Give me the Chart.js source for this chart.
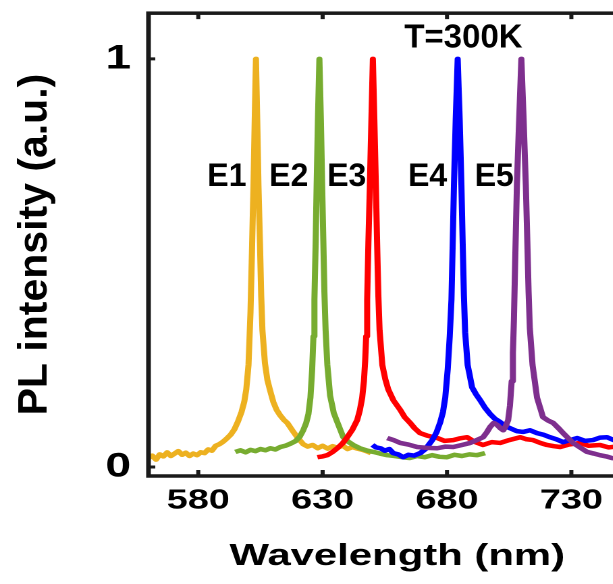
<!DOCTYPE html>
<html>
<head>
<meta charset="utf-8">
<script src="https://cdn.jsdelivr.net/npm/chart.js@4.4.1/dist/chart.umd.min.js"></script>
<style>
  html, body { margin: 0; padding: 0; background: #fff; overflow: hidden; width: 613px; height: 584px; }
  /* the source figure is stretched sideways, so the whole canvas is too */
  #wrap { transform: scaleX(1.35); transform-origin: 0 0; width: 490px; height: 584px; }
</style>
</head>
<body>
<div id="wrap"><canvas id="plChart" width="490" height="584"></canvas></div>
<script>
const SX = 1.35;

// tick values
const xTicks = [580, 630, 680, 730];
const yTicks = [0, 1];

// E1 .. E5 spectra, wavelength (nm) and normalised PL intensity
const wl1 = [560.0, 561.5, 563.0, 564.5, 566.0, 567.5, 569.0, 570.5, 572.0, 573.5, 575.0, 576.5, 578.0, 579.5, 581.0, 582.5, 584.0, 585.5, 587.0, 588.5, 590.0, 591.5, 593.0, 594.5, 596.0, 597.4, 598.5, 599.3, 600.2, 601.0, 601.6, 602.2, 602.7, 603.2, 603.7, 604.2, 604.8, 605.3, 605.8, 606.8, 607.8, 609.0, 610.2, 611.5, 613.0, 614.5, 615.8, 617.8, 619.8, 622.2, 624.0, 626.0, 628.0, 630.0, 632.0, 634.0, 636.0, 638.0, 640.0, 642.0, 644.0, 646.0, 648.0, 649.5];
const pl1 = [0.022, 0.028, 0.018, 0.031, 0.026, 0.036, 0.027, 0.033, 0.039, 0.030, 0.035, 0.027, 0.033, 0.029, 0.036, 0.034, 0.043, 0.040, 0.052, 0.056, 0.062, 0.070, 0.079, 0.092, 0.112, 0.135, 0.160, 0.190, 0.250, 0.380, 0.530, 0.690, 0.850, 1.000, 0.850, 0.690, 0.550, 0.420, 0.335, 0.255, 0.213, 0.185, 0.159, 0.140, 0.126, 0.115, 0.108, 0.090, 0.073, 0.056, 0.050, 0.054, 0.046, 0.052, 0.045, 0.051, 0.047, 0.053, 0.044, 0.049, 0.045, 0.042, 0.038, 0.034];

const wl2 = [594.9, 597.0, 599.0, 601.0, 603.0, 605.0, 607.0, 609.0, 611.0, 613.0, 615.0, 617.0, 619.0, 620.8, 622.2, 623.4, 624.3, 625.1, 625.8, 626.3, 626.7, 627.2, 627.6, 628.1, 628.7, 629.3, 629.8, 630.3, 630.7, 631.2, 631.9, 633.0, 634.5, 635.9, 638.3, 640.3, 642.3, 645.0, 648.0, 650.4, 653.0, 656.0, 659.0, 662.0, 665.0, 668.0, 671.0, 674.0, 677.0, 680.0, 683.0, 686.0, 689.0, 692.0, 695.3];
const pl2 = [0.037, 0.041, 0.036, 0.042, 0.039, 0.044, 0.041, 0.046, 0.043, 0.049, 0.052, 0.057, 0.063, 0.074, 0.090, 0.108, 0.130, 0.170, 0.240, 0.320, 0.410, 0.550, 0.690, 0.850, 1.000, 0.850, 0.690, 0.550, 0.430, 0.335, 0.250, 0.175, 0.132, 0.110, 0.073, 0.062, 0.054, 0.046, 0.040, 0.037, 0.033, 0.029, 0.027, 0.024, 0.022, 0.027, 0.024, 0.029, 0.025, 0.024, 0.030, 0.027, 0.031, 0.029, 0.034];

const wl3 = [627.9, 630.0, 631.9, 634.0, 635.9, 638.0, 639.9, 642.0, 643.9, 645.0, 645.9, 646.6, 647.1, 647.5, 647.9, 648.4, 649.0, 649.6, 650.2, 650.8, 651.4, 651.9, 652.4, 652.9, 654.0, 655.2, 656.4, 658.5, 661.2, 663.0, 665.2, 667.0, 669.2, 672.0, 676.1, 679.0, 682.5, 685.0, 688.1, 691.0, 694.5, 698.0, 701.4, 705.0, 709.4, 712.0, 714.6, 717.5, 720.2, 723.0, 725.5, 729.0, 733.5, 737.0, 741.5, 745.0, 749.0, 753.0, 757.0, 760.0];
const pl3 = [0.024, 0.026, 0.029, 0.037, 0.046, 0.058, 0.073, 0.092, 0.115, 0.140, 0.170, 0.210, 0.260, 0.320, 0.410, 0.550, 0.690, 0.850, 1.000, 0.850, 0.690, 0.550, 0.420, 0.335, 0.250, 0.215, 0.190, 0.163, 0.140, 0.122, 0.108, 0.095, 0.083, 0.077, 0.071, 0.064, 0.066, 0.070, 0.073, 0.062, 0.054, 0.061, 0.059, 0.066, 0.073, 0.068, 0.066, 0.059, 0.054, 0.051, 0.049, 0.055, 0.059, 0.052, 0.054, 0.048, 0.051, 0.046, 0.050, 0.048];

const wl4 = [650.0, 651.5, 653.2, 655.0, 656.8, 658.4, 660.4, 662.4, 664.5, 666.8, 669.2, 671.5, 674.1, 675.8, 677.3, 678.4, 679.3, 680.3, 681.1, 681.8, 682.3, 682.8, 683.5, 684.3, 685.1, 685.8, 686.3, 686.8, 687.3, 688.3, 690.1, 691.7, 693.3, 695.3, 697.3, 699.3, 701.4, 703.4, 705.4, 708.0, 710.6, 713.4, 716.2, 718.8, 721.4, 724.0, 726.7, 729.5, 732.3, 735.5, 738.7, 741.5, 744.3, 747.0, 750.0, 753.0, 756.0, 760.0];
const pl4 = [0.054, 0.048, 0.046, 0.040, 0.044, 0.034, 0.031, 0.024, 0.030, 0.028, 0.034, 0.045, 0.066, 0.085, 0.110, 0.135, 0.170, 0.240, 0.320, 0.410, 0.550, 0.690, 0.850, 1.000, 0.850, 0.690, 0.550, 0.420, 0.330, 0.250, 0.195, 0.178, 0.164, 0.145, 0.130, 0.118, 0.110, 0.100, 0.095, 0.088, 0.086, 0.090, 0.083, 0.079, 0.073, 0.068, 0.061, 0.066, 0.071, 0.064, 0.066, 0.072, 0.073, 0.066, 0.070, 0.064, 0.069, 0.068];

const wl5 = [656.0, 658.5, 661.2, 664.5, 668.0, 672.0, 676.1, 679.5, 682.5, 686.0, 689.3, 692.0, 694.5, 696.0, 697.3, 698.8, 700.2, 701.5, 702.6, 703.6, 704.6, 705.3, 706.0, 706.5, 706.9, 707.4, 708.1, 709.0, 709.9, 710.8, 711.7, 712.3, 712.8, 713.3, 714.4, 716.2, 718.6, 720.6, 722.7, 724.7, 726.7, 728.7, 730.7, 733.5, 736.3, 739.0, 741.5, 744.0, 746.3, 749.0, 752.0, 756.0, 760.0];
const pl5 = [0.071, 0.066, 0.059, 0.055, 0.049, 0.047, 0.046, 0.050, 0.049, 0.054, 0.059, 0.066, 0.073, 0.085, 0.098, 0.108, 0.103, 0.095, 0.090, 0.100, 0.115, 0.150, 0.210, 0.280, 0.360, 0.500, 0.690, 0.850, 1.000, 0.850, 0.690, 0.550, 0.430, 0.340, 0.250, 0.170, 0.122, 0.114, 0.108, 0.096, 0.083, 0.071, 0.059, 0.048, 0.037, 0.033, 0.029, 0.026, 0.022, 0.020, 0.018, 0.016, 0.015];

const names = ['E1', 'E2', 'E3', 'E4', 'E5'];
const colors = ['#EDB120', '#77AC30', '#FF0000', '#0000FF', '#7E2F8E'];
const series = [[wl1, pl1], [wl2, pl2], [wl3, pl3], [wl4, pl4], [wl5, pl5]];

// text written inside the plot, placed in data units
const noteTexts = ['T=300K', 'E1', 'E2', 'E3', 'E4', 'E5'];
const noteWl = [686.6, 591.5, 616.4, 639.7, 672.2, 699.0];
const notePl = [1.050, 0.71, 0.71, 0.71, 0.71, 0.71];
const yTitle = 'PL intensity (a.u.)';

const FONT = "'Liberation Sans', Arial, sans-serif";
Chart.defaults.font.family = FONT;
Chart.defaults.color = '#000';

const frame = {
    id: 'frame',
    afterDatasetsDraw(chart) {
        const { ctx, chartArea: a, scales: { x, y } } = chart;
        ctx.save();
        ctx.strokeStyle = '#1a1a1a';
        ctx.lineWidth = 3.5;
        ctx.strokeRect(a.left, a.top, a.right - a.left, a.bottom - a.top);
        ctx.lineWidth = 3;
        ctx.beginPath();
        xTicks.forEach(v => {
            const px = x.getPixelForValue(v);
            ctx.moveTo(px, a.bottom); ctx.lineTo(px, a.bottom - 6);
            ctx.moveTo(px, a.top); ctx.lineTo(px, a.top + 6);
        });
        yTicks.forEach(v => {
            const py = y.getPixelForValue(v);
            ctx.moveTo(a.left, py); ctx.lineTo(a.left + 5, py);
            ctx.moveTo(a.right, py); ctx.lineTo(a.right - 5, py);
        });
        ctx.stroke();

        // these texts are not stretched in the source, so undo the css stretch
        ctx.scale(1 / SX, 1);
        ctx.fillStyle = '#000';
        ctx.textAlign = 'center';
        ctx.textBaseline = 'middle';
        noteTexts.forEach((t, i) => {
            ctx.font = (i === 0 ? 'bold 33px ' : 'bold 32px ') + FONT;
            ctx.fillText(t, x.getPixelForValue(noteWl[i]) * SX, y.getPixelForValue(notePl[i]));
        });
        ctx.translate(35.5, (a.top + a.bottom) / 2);
        ctx.rotate(-Math.PI / 2);
        ctx.font = 'bold 41px ' + FONT;
        ctx.fillText(yTitle, 0, 0);
        ctx.restore();
    }
};

const ctx = document.getElementById('plChart').getContext('2d');
const chart = new Chart(ctx, {
    type: 'line',
    data: {
        datasets: series.map(([wl, pl], i) => ({
            label: names[i],
            data: wl.map((w, j) => ({ x: w, y: pl[j] })),
            borderColor: colors[i],
            backgroundColor: colors[i],
            borderWidth: 4.5,
            borderJoinStyle: 'round',
            pointRadius: 0,
            tension: 0,
            fill: false,
            order: names.length - i
        }))
    },
    options: {
        responsive: false,
        animation: false,
        devicePixelRatio: 2,
        layout: { padding: { top: 12, right: 11.5, bottom: 0, left: 0 } },
        plugins: { legend: { display: false }, tooltip: { enabled: false } },
        scales: {
            x: {
                type: 'linear',
                min: 560,
                max: 760,
                afterBuildTicks: s => { s.ticks = xTicks.map(v => ({ value: v })); },
                afterFit: s => { s.height = 108; },
                grid: { display: false, drawTicks: false },
                border: { display: false },
                ticks: { color: '#000', font: { size: 28, weight: 'bold' }, padding: 8, maxRotation: 0, autoSkip: false },
                title: {
                    display: true,
                    text: 'Wavelength (nm)',
                    color: '#000',
                    font: { size: 31, weight: 'bold' },
                    padding: { top: 0, bottom: 9 }
                }
            },
            y: {
                type: 'linear',
                min: -0.022,
                max: 1.112,
                afterBuildTicks: s => { s.ticks = yTicks.map(v => ({ value: v })); },
                afterFit: s => { s.width = 110; },
                grid: { display: false, drawTicks: false },
                border: { display: false },
                ticks: { color: '#000', font: { size: 34, weight: 'bold', lineHeight: 0.01 }, padding: 13 }
            }
        }
    },
    plugins: [frame]
});
</script>
</body>
</html>
